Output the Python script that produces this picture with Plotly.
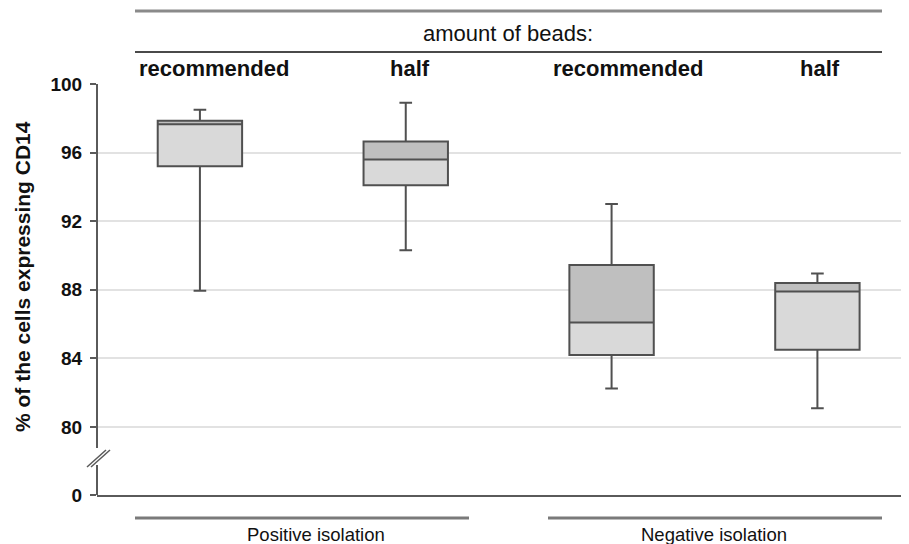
import plotly.graph_objects as go

# ---- data ----
categories = ["recommended", "half", "recommended", "half"]
groups = ["Positive isolation", "Negative isolation"]
q1 = [95.2, 94.1, 84.2, 84.5]
median = [97.65, 95.6, 86.1, 87.9]
q3 = [97.85, 96.65, 89.45, 88.4]
lower = [87.95, 90.3, 82.25, 81.1]
upper = [98.5, 98.9, 93.0, 88.95]
tick_vals = [80, 84, 88, 92, 96, 100]
tick_text = ["80", "84", "88", "92", "96", "100"]
axis_zero_label = "0"

# ---- geometry (window pixel coords; page body has an 8px margin) ----
OFF = 8
WIN_W, WIN_H = 909, 544
PL, PR, PT, PB = 97, 909, 84, 495   # plot area in window px
W, H = WIN_W - OFF, WIN_H - OFF
L, T = PL - OFF, PT - OFF
R, B = WIN_W - PR, WIN_H - PB
plot_w = PR - PL
plot_h = PB - PT
px_per_unit = (427 - 84) / 20.0
y_zero = 80 - (495 - 427) / px_per_unit  # where "0" sits on the broken axis
y_top = 100

xs = list(range(len(categories)))
box_w = 0.41

font = "Liberation Sans, Arial, sans-serif"
line_col = "#505050"
txt_col = "#111111"


def px_x(p):
    return (p - PL) / plot_w


def px_y(p):
    return (PB - p) / plot_h


def label(text, xp, yp, size, angle=0):
    fig.add_annotation(text=text, xref="paper", yref="paper", x=px_x(xp), y=px_y(yp),
                       xanchor="center", yanchor="middle", showarrow=False,
                       textangle=angle, font=dict(family=font, size=size, color=txt_col))


fig = go.Figure()

# lower half of box (q1 -> median), light
fig.add_trace(go.Bar(
    x=xs, base=q1, y=[m - a for m, a in zip(median, q1)], width=box_w,
    marker=dict(color="#d9d9d9", line=dict(width=0)), hoverinfo="skip", showlegend=False))
# upper half of box (median -> q3), darker
fig.add_trace(go.Bar(
    x=xs, base=median, y=[c - m for c, m in zip(q3, median)], width=box_w,
    marker=dict(color="#bfbfbf", line=dict(width=0)), hoverinfo="skip", showlegend=False))
# outlines, median, whiskers
fig.add_trace(go.Box(
    x=xs, q1=q1, median=median, q3=q3, lowerfence=lower, upperfence=upper,
    width=box_w, whiskerwidth=0.15, boxpoints=False,
    fillcolor="rgba(0,0,0,0)", line=dict(color=line_col, width=2),
    hoverinfo="skip", showlegend=False))

fig.update_layout(
    width=W, height=H, margin=dict(l=L, r=R, t=T, b=B, pad=0),
    paper_bgcolor="white", plot_bgcolor="white",
    barmode="overlay", boxmode="overlay", showlegend=False,
    font=dict(family=font, color=txt_col),
    xaxis=dict(range=[-0.5, 3.445], showgrid=False, zeroline=False,
               showticklabels=False, ticks="", showline=True,
               linecolor="#5a5a5a", linewidth=2),
    yaxis=dict(range=[y_zero, y_top], showline=False, zeroline=False,
               tickvals=[y_zero] + tick_vals, ticktext=[axis_zero_label] + tick_text,
               ticks="outside", ticklen=6, tickwidth=2, tickcolor="#5a5a5a",
               showgrid=True, gridcolor="#e2e2e2", gridwidth=2,
               tickfont=dict(family=font, size=19, color=txt_col, weight="bold"),
               ticklabelstandoff=4),
)

# broken y axis line
brk_lo = 80 - (465 - 427) / px_per_unit
brk_hi = 80 - (448 - 427) / px_per_unit
for y0, y1 in [(y_zero, brk_lo), (brk_hi, y_top)]:
    fig.add_shape(type="line", xref="paper", yref="y", x0=0, x1=0, y0=y0, y1=y1,
                  line=dict(color="#5a5a5a", width=2))
# break marks
for off in [0, 4]:
    fig.add_shape(type="line", xref="paper", yref="paper",
                  x0=px_x(87 + off), x1=px_x(106 + off),
                  y0=px_y(467), y1=px_y(450),
                  line=dict(color="#5a5a5a", width=1.5))

# top header lines
fig.add_shape(type="line", xref="paper", yref="paper", x0=px_x(135), x1=px_x(882),
              y0=px_y(11), y1=px_y(11), line=dict(color="#8a8a8a", width=3))
fig.add_shape(type="line", xref="paper", yref="paper", x0=px_x(135), x1=px_x(882),
              y0=px_y(52), y1=px_y(52), line=dict(color="#4a4a4a", width=2))
label("amount of beads:", 508, 33, 22)

label_px = [214, 410, 628, 820]
for lab, p in zip(categories, label_px):
    label("<b>%s</b>" % lab, p, 69, 22)

# bottom group lines and labels
grp_lines = [(135, 469), (548, 882)]
grp_text_px = [316, 714]
for g, (a, b), tp in zip(groups, grp_lines, grp_text_px):
    fig.add_shape(type="line", xref="paper", yref="paper", x0=px_x(a), x1=px_x(b),
                  y0=px_y(518), y1=px_y(518), line=dict(color="#7a7a7a", width=3))
    label(g, tp, 534, 18.5)

# y title
label("<b>% of the cells expressing CD14</b>", 22, 277, 21, angle=-90)

fig.write_html("out.html")
